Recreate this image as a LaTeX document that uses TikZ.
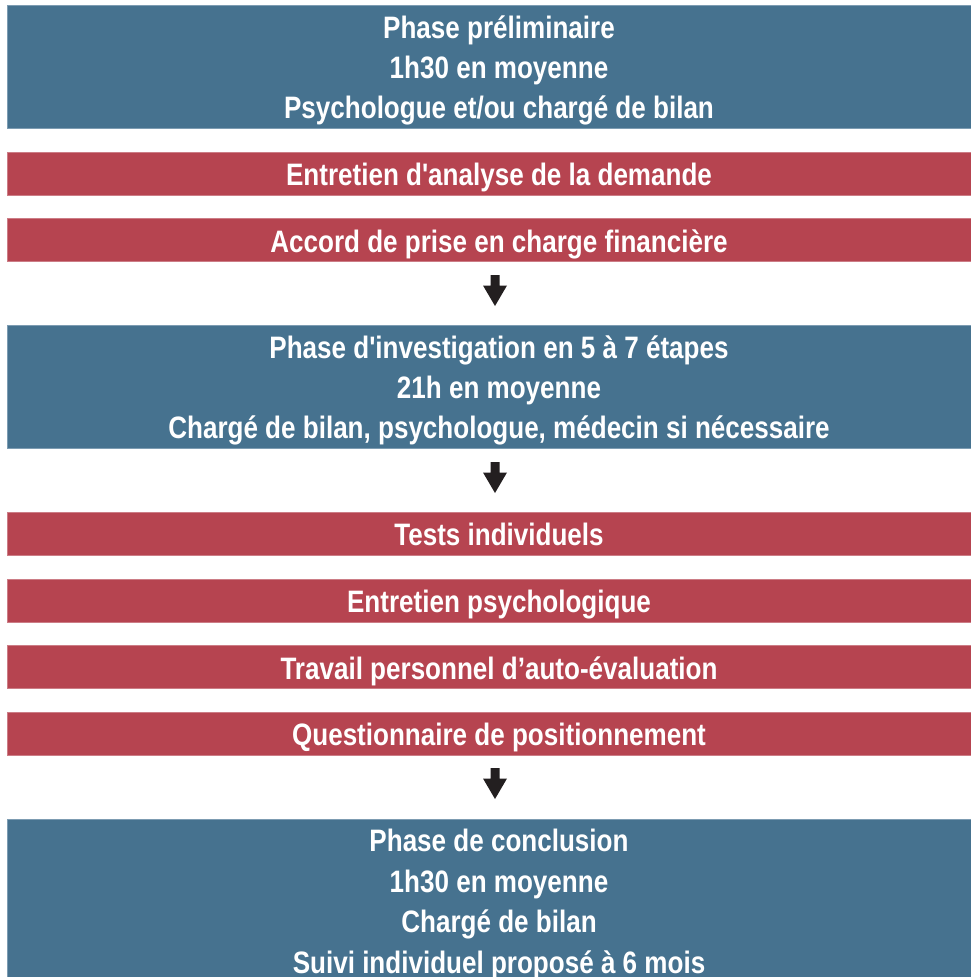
\documentclass[tikz,border=0pt]{standalone}
\usepackage{fontspec}
\newfontfamily\boxfont[FakeStretch=0.84]{Liberation Sans}
\definecolor{phaseblue}{HTML}{46728F}
\definecolor{phaseblueedge}{HTML}{7D9CB2}
\definecolor{stepred}{HTML}{B64450}
\definecolor{stepredege}{HTML}{CC7D86}
\definecolor{arrowdark}{HTML}{231F20}
\newcommand\Ln[1]{\raisebox{0pt}[24pt][0pt]{#1}}
\tikzset{
  boxbase/.style={rectangle, inner sep=0pt, minimum width=984pt, align=center,
    text=white, font=\boxfont\bfseries\fontsize{31pt}{40.4pt}\selectfont},
  phasebox/.style={boxbase, fill=phaseblue, draw=phaseblueedge, line width=0.8pt, minimum height=123pt},
  stepbox/.style={boxbase, fill=stepred, draw=stepredege, line width=0.8pt, minimum height=43pt},
  blockarrow/.pic={\fill[arrowdark] (-4.5,0) -- (4.5,0) -- (4.5,10.5) -- (12,10.5) -- (0,31) -- (-12,10.5) -- (-4.5,10.5) -- cycle;}
}
\begin{document}
\begin{tikzpicture}[x=1pt,y=-1pt]
\useasboundingbox (0,0) rectangle (971,977);
\clip (0,0) rectangle (971,977);
\fill[white] (0,0) rectangle (971,977);
\node[phasebox] (p1) at (499,66.5) {\Ln{Phase préliminaire}\\\Ln{1h30 en moyenne}\\\Ln{Psychologue et/ou chargé de bilan}};
\node[stepbox] (s1) at (499,173.5) {\Ln{Entretien d'analyse de la demande}};
\node[stepbox] (s2) at (499,240) {\Ln{Accord de prise en charge financière}};
\coordinate (a1) at (495,275);
\pic at (a1) {blockarrow};
\node[phasebox] (p2) at (499,386.5) {\Ln{Phase d'investigation en 5 à 7 étapes}\\\Ln{21h en moyenne}\\\Ln{Chargé de bilan, psychologue, médecin si nécessaire}};
\coordinate (a2) at (495,462);
\pic at (a2) {blockarrow};
\node[stepbox] (s3) at (499,533.5) {\Ln{Tests individuels}};
\node[stepbox] (s4) at (499,600.5) {\Ln{Entretien psychologique}};
\node[stepbox] (s5) at (499,667) {\Ln{Travail personnel d’auto-évaluation}};
\node[stepbox] (s6) at (499,733.5) {\Ln{Questionnaire de positionnement}};
\coordinate (a3) at (495,768);
\pic at (a3) {blockarrow};
\node[phasebox, minimum height=163pt] (p3) at (499,900.5) {\Ln{Phase de conclusion}\\\Ln{1h30 en moyenne}\\\Ln{Chargé de bilan}\\\Ln{Suivi individuel proposé à 6 mois}};
\end{tikzpicture}
\end{document}
